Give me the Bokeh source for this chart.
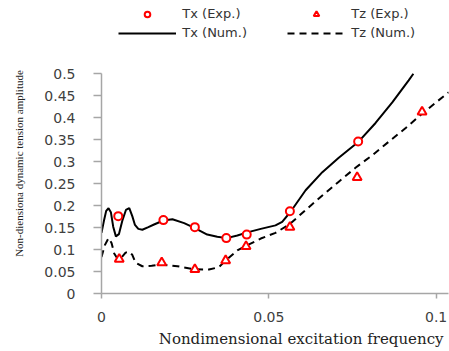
from bokeh.plotting import figure
from bokeh.models import Legend, LegendItem, FixedTicker, Range1d, Title
from bokeh.embed import file_html
from bokeh.resources import INLINE

# ---- data ----
tx_exp_x = [0.0050, 0.0185, 0.0279, 0.0373, 0.0434, 0.0563, 0.0767]
tx_exp_y = [0.176, 0.167, 0.151, 0.126, 0.134, 0.187, 0.346]

tz_exp_x = [0.0053, 0.0180, 0.0279, 0.0371, 0.0432, 0.0563, 0.0764, 0.0958]
tz_exp_y = [0.078, 0.070, 0.055, 0.075, 0.107, 0.151, 0.264, 0.413]

tx_num_x = [0.0, 0.0008, 0.0014, 0.0021, 0.0028, 0.0035, 0.0043, 0.0052, 0.0062,
            0.0073, 0.0083, 0.0092, 0.0100, 0.0110, 0.0122, 0.0140, 0.0157, 0.0185,
            0.0212, 0.0247, 0.0276, 0.0316, 0.0346, 0.0374, 0.0406, 0.0436, 0.0476,
            0.0520, 0.0540, 0.0565, 0.0610, 0.0660, 0.0709, 0.0769, 0.0819, 0.0869,
            0.0918, 0.0932]
tx_num_y = [0.138, 0.168, 0.188, 0.194, 0.185, 0.152, 0.130, 0.135, 0.165,
            0.190, 0.194, 0.176, 0.156, 0.147, 0.145, 0.151, 0.157, 0.166,
            0.169, 0.160, 0.150, 0.134, 0.129, 0.126, 0.132, 0.139, 0.147,
            0.155, 0.163, 0.186, 0.235, 0.276, 0.309, 0.346, 0.388, 0.435,
            0.485, 0.500]

tz_num_x = [0.0, 0.0010, 0.0021, 0.0030, 0.0038, 0.0048, 0.0060, 0.0072, 0.0082,
            0.0092, 0.0102, 0.0122, 0.0150, 0.0177, 0.0227, 0.0276, 0.0321, 0.0351,
            0.0371, 0.0406, 0.0436, 0.0476, 0.0520, 0.0563, 0.0610, 0.0660, 0.0710,
            0.0759, 0.0810, 0.0858, 0.0910, 0.0958, 0.1000, 0.1038]
tz_num_y = [0.083, 0.110, 0.126, 0.115, 0.091, 0.079, 0.082, 0.093, 0.095,
            0.088, 0.070, 0.062, 0.063, 0.066, 0.062, 0.055, 0.0545, 0.060,
            0.075, 0.098, 0.110, 0.125, 0.138, 0.158, 0.190, 0.223, 0.255,
            0.286, 0.315, 0.345, 0.377, 0.409, 0.435, 0.458]

y_ticks = [0, 0.05, 0.1, 0.15, 0.2, 0.25, 0.3, 0.35, 0.4, 0.45, 0.5]
y_tick_labels = ["0", "0.05", "0.1", "0.15", "0.2", "0.25", "0.3", "0.35", "0.4", "0.45", "0.5"]
x_ticks = [0, 0.05, 0.1]
x_tick_labels = ["0", "0.05", "0.1"]

W, H = 449, 351
FRAME_BOTTOM = 293.3            # pixel row of y = 0
PX_PER_UNIT_Y = 440.0
y_top = FRAME_BOTTOM / PX_PER_UNIT_Y   # frame reaches the top edge of the canvas

p = figure(width=W, height=H, output_backend="svg", toolbar_location=None,
           x_range=Range1d(0, 0.1037), y_range=Range1d(0, y_top),
           min_border_left=101, min_border_right=1, min_border_top=0,
           min_border_bottom=int(round(H - FRAME_BOTTOM)))
p.outline_line_color = None
p.grid.visible = False
p.background_fill_color = "white"
p.border_fill_color = "white"

r_txn = p.line(tx_num_x, tx_num_y, line_color="black", line_width=2)
r_tzn = p.line(tz_num_x, tz_num_y, line_color="black", line_width=2, line_dash="7 5")
r_txe = p.scatter(tx_exp_x, tx_exp_y, marker="circle", size=8, fill_color="white",
                  line_color="red", line_width=2)
r_tze = p.scatter(tz_exp_x, tz_exp_y, marker="triangle", size=9, fill_color="white",
                  line_color="red", line_width=2)

axis_col = "#a6a6a6"
for ax in (p.xaxis[0], p.yaxis[0]):
    ax.axis_line_color = axis_col
    ax.axis_line_width = 1.5
    ax.major_tick_line_color = axis_col
    ax.major_tick_line_width = 1.5
    ax.minor_tick_line_color = None
    ax.major_tick_in = 0
    ax.major_label_text_font = "DejaVu Sans"
    ax.major_label_text_font_size = "14px"
    ax.major_label_text_color = "#404040"

p.yaxis.bounds = (0, 0.5)
p.yaxis.ticker = FixedTicker(ticks=y_ticks)
p.yaxis.major_label_overrides = {t: s for t, s in zip(y_ticks, y_tick_labels)}
p.yaxis.major_tick_out = 8
p.yaxis.major_label_standoff = 18
p.yaxis.axis_label = "Non-diensiona dynamic tension amplitude" + "\u00a0" * 12
p.yaxis.axis_label_text_font = "Liberation Serif"
p.yaxis.axis_label_text_font_size = "11px"
p.yaxis.axis_label_text_font_style = "normal"
p.yaxis.axis_label_text_color = "#222222"
p.yaxis.axis_label_standoff = 16

p.xaxis.ticker = FixedTicker(ticks=x_ticks)
p.xaxis.major_label_overrides = {t: s for t, s in zip(x_ticks, x_tick_labels)}
p.xaxis.major_tick_out = 5
p.xaxis.major_label_standoff = 13

p.add_layout(Title(text="Nondimensional excitation frequency", align="right", offset=5,
                   text_font="DejaVu Serif", text_font_size="15px",
                   text_font_style="normal", text_color="#222222", standoff=7), "below")

legend = Legend(items=[
    LegendItem(label="Tx (Exp.)", renderers=[r_txe]),
    LegendItem(label="Tx (Num.)", renderers=[r_txn]),
    LegendItem(label="Tz (Exp.)", renderers=[r_tze]),
    LegendItem(label="Tz (Num.)", renderers=[r_tzn]),
], ncols=2, location=(17.3, 252.6))
legend.glyph_width = 58
legend.glyph_height = 14
legend.label_height = 14
legend.label_width = 101
legend.label_standoff = 6
legend.spacing = 4
legend.padding = 0
legend.margin = 0
legend.border_line_color = None
legend.background_fill_alpha = 0
legend.label_text_font = "DejaVu Sans"
legend.label_text_font_size = "13px"
legend.label_text_color = "#333333"
p.add_layout(legend, "center")

open("out.html", "w").write(file_html(p, INLINE))
